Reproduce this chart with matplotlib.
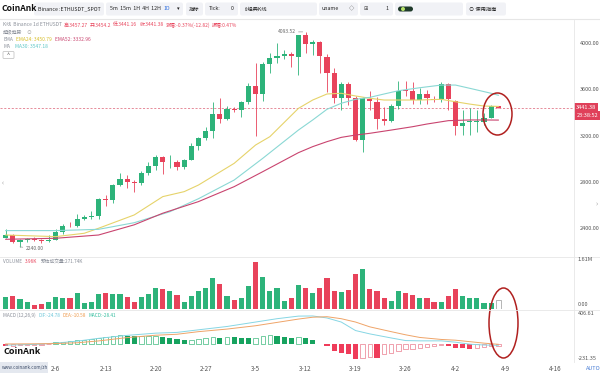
import matplotlib
matplotlib.use('Agg')
import matplotlib.pyplot as plt
import matplotlib.transforms as mtrans
from matplotlib.patches import Ellipse, FancyBboxPatch, Rectangle
import numpy as np
import pandas as pd

plt.rcParams['font.family'] = ['Noto Sans CJK SC', 'DejaVu Sans']

W, H = 600, 373

# daily candles ETHUSDT, 2024-01-30 .. 2024-04-08
start = '2024-01-30'
opens = [2316, 2343, 2285, 2299, 2308, 2298, 2289, 2300, 2370, 2422,
         2416, 2484, 2500, 2507, 2656, 2643, 2775, 2823, 2802, 2788,
         2879, 2941, 3012, 2968, 2972, 2926, 2990, 3110, 3176, 3242,
         3383, 3340, 3431, 3422, 3489, 3627, 3558, 3816, 3866, 3888,
         3903, 3880, 4066, 3986, 4003, 3879, 3741, 3526, 3641, 3521,
         3161, 3515, 3491, 3342, 3328, 3457, 3590, 3584, 3506, 3558,
         3512, 3515, 3644, 3497, 3282, 3314, 3318, 3319, 3354, 3454.2]
highs = [2392, 2350, 2305, 2320, 2325, 2310, 2338, 2390, 2440, 2457,
         2520, 2515, 2552, 2665, 2690, 2785, 2874, 2860, 2820, 2894,
         2974, 3032, 3020, 3032, 2990, 3000, 3133, 3190, 3276, 3491,
         3521, 3454, 3450, 3500, 3650, 3828, 3830, 3908, 3995, 3935,
         3922, 4068, 4093.52, 4023, 4015, 3900, 3780, 3660, 3660, 3543,
         3530, 3585, 3535, 3448, 3470, 3672, 3666, 3660, 3610, 3590,
         3540, 3660, 3650, 3510, 3420, 3435, 3420, 3397, 3460, 3457.27]
lows = [2313, 2271, 2240, 2283, 2290, 2270, 2280, 2295, 2353, 2410,
        2410, 2468, 2480, 2478, 2592, 2621, 2765, 2745, 2716, 2770,
        2860, 2900, 2868, 2917, 2905, 2910, 2985, 3075, 3161, 3176,
        3305, 3330, 3400, 3357, 3470, 3196, 3500, 3736, 3822, 3860,
        3793, 3722, 3908, 3894, 3736, 3578, 3478, 3420, 3463, 3150,
        3060, 3420, 3256, 3291, 3316, 3430, 3542, 3470, 3470, 3475,
        3490, 3490, 3420, 3204, 3208, 3204, 3230, 3290, 3350, 3441.16]
closes = [2343, 2285, 2299, 2308, 2298, 2289, 2300, 2370, 2422, 2416,
          2484, 2500, 2507, 2656, 2643, 2775, 2823, 2802, 2788, 2879,
          2941, 3012, 2968, 2972, 2926, 2990, 3110, 3176, 3242, 3383,
          3340, 3431, 3422, 3489, 3627, 3558, 3816, 3865, 3882, 3903,
          3885, 4066, 3986, 4003, 3885, 3741, 3526, 3641, 3526, 3161,
          3521, 3497, 3340, 3328, 3457, 3586, 3586, 3506, 3558, 3521,
          3508, 3644, 3515, 3282, 3305, 3325, 3326, 3348, 3454, 3441.38]

# volume in millions (last one = estimated volume, drawn hollow)
volume = [0.39, 0.41, 0.32, 0.23, 0.13, 0.17, 0.23, 0.38, 0.36, 0.34,
          0.50, 0.18, 0.21, 0.46, 0.52, 0.47, 0.48, 0.38, 0.23, 0.38,
          0.46, 0.65, 0.62, 0.58, 0.44, 0.23, 0.42, 0.57, 0.65, 0.99,
          0.78, 0.42, 0.29, 0.36, 0.74, 1.47, 1.01, 0.57, 0.65, 0.26,
          0.36, 0.75, 0.65, 0.49, 0.67, 0.99, 0.57, 0.53, 0.59, 1.09,
          1.26, 0.63, 0.58, 0.34, 0.25, 0.57, 0.49, 0.44, 0.36, 0.36,
          0.21, 0.23, 0.41, 0.63, 0.41, 0.36, 0.34, 0.18, 0.20, 0.27]

# moving averages (day index, value)
ema24_x = [0, 7, 11, 13, 18, 22, 25, 27, 32, 35, 37, 41, 43, 45, 47, 49, 51, 53, 58, 61, 63, 65, 67, 69]
ema24_y = [2342, 2328, 2357, 2400, 2515, 2673, 2716, 2773, 2960, 3118, 3190, 3434, 3506, 3558,
           3564, 3541, 3521, 3506, 3506, 3512, 3491, 3471, 3454, 3451]
ma30_x = [0, 7, 13, 18, 23, 27, 32, 36, 41, 43, 45, 47, 49, 51, 53, 55, 58, 61, 63, 65, 68, 69]
ma30_y = [2380, 2380, 2391, 2448, 2543, 2655, 2816, 3003, 3247, 3334, 3426, 3478, 3512, 3529,
          3558, 3586, 3612, 3635, 3635, 3607, 3564, 3547]
ema52_x = [0, 7, 13, 18, 22, 27, 32, 36, 41, 43, 45, 47, 49, 51, 54, 57, 59, 62, 65, 67, 69]
ema52_y = [2305, 2314, 2342, 2430, 2530, 2630, 2759, 2888, 3052, 3104, 3147, 3184, 3204, 3219,
           3247, 3276, 3299, 3328, 3334, 3334, 3333]

# MACD
macd_hist = [-32, -28, -25, -22, -19, -15, -9, 14, 23, 32,
             41, 50, 59, 72, 86, 99, 112, 108, 99, 101,
             104, 108, 90, 77, 59, 45, 54, 63, 77, 86,
             81, 90, 86, 81, 68, 77, 104, 113, 104, 90,
             77, 90, 68, 54, -5, -32, -99, -122, -145, -212,
             -190, -181, -190, -145, -122, -99, -77, -68, -54, -45,
             -36, -23, -36, -54, -63, -68, -54, -41, -32, -28.41]
macd_x = [0, 4, 7, 10, 13, 17, 21, 24, 27, 31, 35, 38, 41, 43, 45, 47, 49, 51, 54, 56, 58, 61, 63, 65, 67, 69]
dif = [-22, -12, 5, 32, 70, 110, 140, 150, 185, 230, 290, 335, 370, 372, 345, 290, 175, 130, 75, 40,
       36, 36, 18, -9, -20, -24.78]
dea = [-6, -4, 0, 10, 35, 80, 112, 125, 160, 195, 240, 285, 330, 355, 362, 335, 290, 225, 160, 118,
       82, 55, 45, 25, 5, -10.58]

tick_dates = ['2024-02-06', '2024-02-13', '2024-02-20', '2024-02-27', '2024-03-05', '2024-03-12',
              '2024-03-19', '2024-03-26', '2024-04-02', '2024-04-09', '2024-04-16']
price_ticks = [2400, 2800, 3200, 3600, 4000]

GREEN = '#2db37a'
RED = '#e8435b'
GRAY = '#8a8f99'

o = np.array(opens); hi = np.array(highs); lo = np.array(lows); c = np.array(closes)
n = len(c)
x = np.arange(n)
up = c >= o
cols = np.where(up, GREEN, RED)

fig = plt.figure(figsize=(W / 100, H / 100), dpi=100)
fig.patch.set_facecolor('white')


def px_axes(x0, y0, x1, y1):
    a = fig.add_axes([x0 / W, 1 - y1 / H, (x1 - x0) / W, (y1 - y0) / H])
    for s in a.spines.values():
        s.set_visible(False)
    a.set_xlim(-0.8, 79.6)
    return a


# ---- main price panel
ax = px_axes(0, 20, 574, 256)
ax.set_ylim(2161, 4196)
ax.vlines(x, lo, hi, colors=cols, lw=0.6, zorder=2)
body = np.maximum(np.abs(c - o), 5)
ax.bar(x, body, bottom=np.minimum(o, c), width=0.72, color=cols, lw=0, zorder=3)
ax.plot(ema24_x, ema24_y, color='#e6d36a', lw=0.8, zorder=4)
ax.plot(ma30_x, ma30_y, color='#8ad8d4', lw=0.8, zorder=4)
ax.plot(ema52_x, ema52_y, color='#c9446f', lw=0.8, zorder=4)
ax.axhline(c[-1], color='#e27a8a', lw=0.6, dashes=(2.5, 2), zorder=1)
ax.yaxis.tick_right()
ax.set_yticks(price_ticks)
ax.set_yticklabels([f'{p:.2f}' for p in price_ticks])
ax.tick_params(axis='y', length=0, pad=4, labelsize=4, labelcolor='#555')
ax.set_xticks([])

# extreme labels
imax = int(np.argmax(hi)); imin = int(np.argmin(lo))
ax.annotate(f'{hi[imax]:.2f}', xy=(imax - 0.4, hi[imax]), xytext=(-5, 0), textcoords='offset points',
            fontsize=3.6, color='#666', ha='right', va='center',
            arrowprops=dict(arrowstyle='-', color='#999', lw=0.5, shrinkA=0, shrinkB=0))
ax.annotate(f'{lo[imin]:.2f}', xy=(imin, lo[imin]), xytext=(4, -1.5), textcoords='offset points',
            fontsize=3.6, color='#666', ha='left', va='center',
            arrowprops=dict(arrowstyle='-', color='#999', lw=0.5, shrinkA=0, shrinkB=0))

# current price tags on the scale
tr = mtrans.blended_transform_factory(ax.transAxes, ax.transData)
ax.text(1.004, c[-1], f'{c[-1]:.2f}', transform=tr, fontsize=4, color='white', va='center', ha='left',
        bbox=dict(boxstyle='square,pad=0.35', fc='#e0405a', ec='none'), zorder=6, clip_on=False)
ax.text(1.004, c[-1] - 70, '23:38:52', transform=tr, fontsize=4, color='white', va='center', ha='left',
        bbox=dict(boxstyle='square,pad=0.35', fc='#e0405a', ec='none'), zorder=6, clip_on=False)

# ---- volume panel
axv = px_axes(0, 258, 574, 309)
axv.set_ylim(0, 1.61)
vcols = list(cols)
axv.bar(x[:-1], volume[:-1], width=0.72, color=vcols[:-1], lw=0)
axv.bar(x[-1], volume[-1], width=0.72, facecolor='white', edgecolor='#aaaaaa', lw=0.6)
axv.set_xticks([]); axv.set_yticks([])

# ---- MACD panel
axm = px_axes(0, 311, 574, 361)
axm.set_ylim(-236, 439)
h = np.array(macd_hist)
prev = np.concatenate([[np.inf], h[:-1]])
filled = h < prev
for i in range(n):
    pos = h[i] >= 0
    if filled[i]:
        axm.bar(i, h[i], width=0.72, color='#17a35f' if pos else '#ef3c5a', lw=0)
    else:
        axm.bar(i, h[i], width=0.62, facecolor='white', edgecolor='#3cb97d' if pos else '#ea7b8d', lw=0.5)
axm.plot(macd_x, dif, color='#86d6e4', lw=0.7)
axm.plot(macd_x, dea, color='#efa468', lw=0.7)
axm.set_yticks([])
days = (pd.to_datetime(tick_dates) - pd.Timestamp(start)).days
axm.set_xticks(days)
axm.set_xticklabels([f'{d.month}-{d.day}' for d in pd.to_datetime(tick_dates)])
axm.tick_params(axis='x', length=0, pad=3, labelsize=4.5, labelcolor='#555')

# ---- overlay in pixel coordinates
ov = fig.add_axes([0, 0, 1, 1], zorder=10)
ov.set_xlim(0, W); ov.set_ylim(H, 0); ov.axis('off')
renderer = fig.canvas.get_renderer()


def seq(x0, y0, parts, size=4.3, gap=2.2, **kw):
    # trailing blanks are not measured, so pieces are spaced by an explicit gap
    for s, col in parts:
        t = ov.text(x0, y0, s, color=col, fontsize=size, va='center', ha='left', **kw)
        x0 += t.get_window_extent(renderer).width + gap
    return x0


def button(x0, x1, y0=2.5, y1=15.5, fc='#f1f2f6'):
    ov.add_patch(FancyBboxPatch((x0, y0), x1 - x0, y1 - y0, boxstyle='round,pad=0,rounding_size=2',
                                fc=fc, ec='none'))


# separators
ov.plot([0, W], [19, 19], color='#e6e6e6', lw=0.8)
ov.plot([0, W], [257, 257], color='#e6e6e6', lw=0.6)
ov.plot([0, W], [310, 310], color='#e6e6e6', lw=0.6)
ov.plot([574, 574], [20, 362], color='#e6e6e6', lw=0.6)

# toolbar
ov.text(1, 8.8, 'CoinAnk', fontsize=6.2, color='#111', va='center', ha='left', weight='bold')
for b in [(34, 104), (106, 183), (186, 203), (205, 238), (240, 317), (319, 358), (360, 393), (395, 463), (466, 506)]:
    button(*b)
ts = 3.8
ov.text(37.5, 9, 'Binance :ETHUSDT_SPOT', fontsize=ts, color='#222', va='center')
seq(110, 9, [('5m  15m  1H  4H  12H', '#222'), ('1D', '#2f6fde')], size=ts, gap=2.5)
ov.text(177, 9, '▾', fontsize=ts, color='#222', va='center')
ov.text(194.5, 9, '指标', fontsize=ts, color='#222', va='center', ha='center')
ov.text(209, 9, 'Tick:', fontsize=ts, color='#222', va='center')
ov.text(231, 9, '0', fontsize=ts, color='#222', va='center')
ov.text(244, 9, '⇕经典K线', fontsize=ts, color='#222', va='center')
ov.text(322, 9, 'uname', fontsize=ts, color='#222', va='center')
ov.text(349, 9, '◇', fontsize=ts, color='#444', va='center')
ov.text(364, 9, '⊞', fontsize=ts, color='#444', va='center')
ov.text(385, 9, '1', fontsize=ts, color='#222', va='center')
ov.add_patch(FancyBboxPatch((398, 6.5), 15, 5, boxstyle='round,pad=0,rounding_size=2.5', fc='#1f3a2a', ec='none'))
ov.add_patch(Ellipse((403, 9), 4, 4, fc='#b7e36a', ec='none'))
ov.text(469, 9, '⊙ 使用指南', fontsize=ts, color='#222', va='center')

# price panel legend
hs = 3.5
seq(3, 25, [('K线  Binance 1d ETHUSDT', GRAY), ('高:3457.27', RED), ('开:3454.2', RED),
            ('低:3441.16', RED), ('收:3441.38', RED), ('涨幅:-0.37%(-12.82)', RED),
            ('振幅:0.47%', RED)], size=hs, gap=2.0)
seq(3, 32.3, [('超级趋势', GRAY), ('⊙', '#aaa')], size=hs, gap=4)
seq(3, 39.6, [('EMA', GRAY), ('EMA24: 3450.79', '#d6bd2a'), ('EMA52: 3332.96', '#c9446f')], size=hs, gap=3)
seq(3, 46.9, [('MA', GRAY), ('MA30: 3547.18', '#5cc6c6')], size=hs, gap=5)
ov.add_patch(FancyBboxPatch((3, 51.5), 11, 7, boxstyle='round,pad=0,rounding_size=1', fc='white',
                            ec='#bbb', lw=0.5))
ov.text(8.5, 55.5, '^', fontsize=4, color='#555', ha='center', va='center')
ov.text(2, 183, '‹', fontsize=5, color='#999', ha='left', va='center')
ov.text(598, 204, '›', fontsize=5, color='#999', ha='right', va='center')

# volume legend and scale
seq(3, 261.5, [('VOLUME', GRAY), ('3.96K', RED), ('预估成交量:271.74K', GRAY)], size=3.4, gap=3)
ov.text(578, 259.5, '1.61M', fontsize=4, color='#555', va='center')
ov.text(578, 305, '0.00', fontsize=4, color='#555', va='center')

# MACD legend and scale
seq(3, 315.5, [('MACD (12,26,9)', GRAY), ('DIF:-24.78', '#6cc6d9'), ('DEA:-10.58', '#ef9a4c'),
               ('MACD:-28.41', '#37bfa0')], size=3.4, gap=2.5)
ov.text(578, 313.5, '406.61', fontsize=4, color='#555', va='center')
ov.text(578, 358, '-231.35', fontsize=4, color='#555', va='center')
ov.text(586, 368, 'AUTO', fontsize=4, color='#4a7fd6', va='center')
ov.text(4, 352, 'CoinAnk', fontsize=6.5, color='#111', va='center', weight='bold')
ov.add_patch(Rectangle((0, 362), 48, 11, fc='#e4e8ef', ec='none'))
ov.text(1.5, 368, 'www.coinank.com/zh', fontsize=3.3, color='#3a4a66', va='center')

# red marks
ov.add_patch(Ellipse((497.5, 114), 29, 42, fc='none', ec='#b0201f', lw=1.1))
ov.add_patch(Ellipse((503.5, 323), 29, 70, fc='none', ec='#b0201f', lw=1.1))

fig.savefig('out.png', dpi=100)
